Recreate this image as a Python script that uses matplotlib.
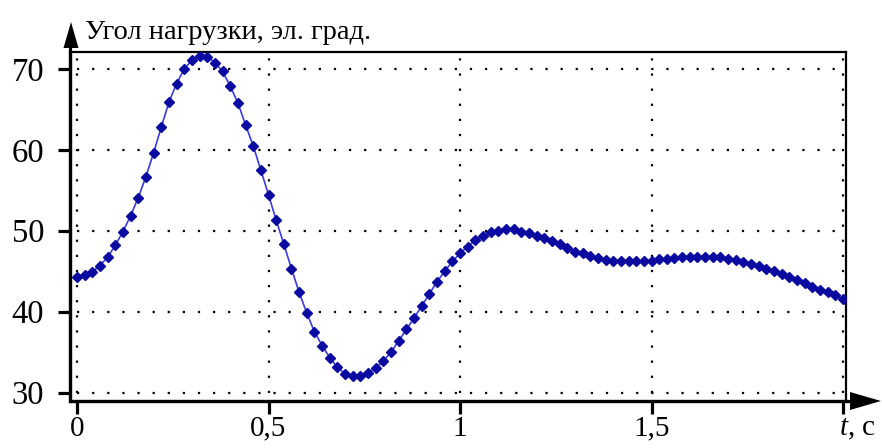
import matplotlib
matplotlib.use("Agg")
import matplotlib.pyplot as plt
from matplotlib.lines import Line2D
from matplotlib.patches import Polygon
from matplotlib.transforms import ScaledTranslation

# ---- data -------------------------------------------------------------
time_s = [0.00, 0.02, 0.04, 0.06, 0.08, 0.10, 0.12, 0.14, 0.16, 0.18,
          0.20, 0.22, 0.24, 0.26, 0.28, 0.30, 0.32, 0.34, 0.36, 0.38,
          0.40, 0.42, 0.44, 0.46, 0.48, 0.50, 0.52, 0.54, 0.56, 0.58,
          0.60, 0.62, 0.64, 0.66, 0.68, 0.70, 0.72, 0.74, 0.76, 0.78,
          0.80, 0.82, 0.84, 0.86, 0.88, 0.90, 0.92, 0.94, 0.96, 0.98,
          1.00, 1.02, 1.04, 1.06, 1.08, 1.10, 1.12, 1.14, 1.16, 1.18,
          1.20, 1.22, 1.24, 1.26, 1.28, 1.30, 1.32, 1.34, 1.36, 1.38,
          1.40, 1.42, 1.44, 1.46, 1.48, 1.50, 1.52, 1.54, 1.56, 1.58,
          1.60, 1.62, 1.64, 1.66, 1.68, 1.70, 1.72, 1.74, 1.76, 1.78,
          1.80, 1.82, 1.84, 1.86, 1.88, 1.90, 1.92, 1.94, 1.96, 1.98,
          2.00]
angle_deg = [44.3, 44.5, 44.9, 45.7, 46.75, 48.2, 49.9, 51.85, 54.1, 56.7,
             59.65, 62.8, 65.9, 68.2, 70.0, 71.1, 71.6, 71.5, 70.8, 69.7,
             67.9, 65.8, 63.1, 60.5, 57.5, 54.45, 51.3, 48.35, 45.3, 42.4,
             39.8, 37.5, 35.8, 34.3, 33.1, 32.3, 32.0, 32.0, 32.4, 33.05,
             33.9, 35.0, 36.4, 37.8, 39.2, 40.7, 42.2, 43.7, 45.0, 46.2,
             47.2, 48.05, 48.8, 49.4, 49.8, 50.0, 50.2, 50.2, 49.9, 49.7,
             49.4, 49.1, 48.7, 48.3, 47.9, 47.4, 47.2, 46.9, 46.6, 46.4,
             46.3, 46.3, 46.2, 46.2, 46.25, 46.3, 46.5, 46.5, 46.6, 46.7,
             46.7, 46.8, 46.8, 46.8, 46.7, 46.5, 46.4, 46.1, 45.9, 45.6,
             45.3, 45.0, 44.7, 44.3, 43.9, 43.5, 43.05, 42.7, 42.4, 42.0,
             41.5]
x_ticks = [0, 0.5, 1, 1.5, 2]
x_tick_labels = ["0", "0,5", "1", "1,5", r"$\mathit{t}$, с"]
y_ticks = [30, 40, 50, 60, 70]
y_tick_labels = ["30", "40", "50", "60", "70"]
y_title = "Угол нагрузки, эл. град."

# ---- style ------------------------------------------------------------
plt.rcParams["font.family"] = ["Liberation Serif", "DejaVu Serif"]
plt.rcParams["mathtext.fontset"] = "custom"
plt.rcParams["mathtext.it"] = "Liberation Serif:italic"
plt.rcParams["mathtext.rm"] = "Liberation Serif"

W, H = 882, 448
fig = plt.figure(figsize=(W / 100, H / 100), dpi=100)
L, R, T, B = 70, 846, 52, 401
ax = fig.add_axes([L / W, 1 - B / H, (R - L) / W, (B - T) / H])

ax.set_xlim(-0.0183, 2.0078)
ax.set_ylim(28.95, 72.1)

# dotted grid
for xv in x_ticks:
    ax.plot([xv, xv], [y_ticks[0], 72.1], color="black", lw=1.6,
            ls=(0, (1, 5.8)), zorder=1)
for yv in y_ticks:
    ax.plot([x_ticks[0], x_ticks[-1]], [yv, yv], color="black", lw=1.6,
            ls=(0, (1, 5.8)), zorder=1)

# curve
ax.plot(time_s, angle_deg, color="#3a3ae0", lw=1.2, zorder=3)
ax.plot(time_s, angle_deg, ls="none", marker="D", ms=4.8,
        color="#0a0aa0", mec="#0a0aa0", zorder=4)

# spines
for side in ("left", "bottom"):
    ax.spines[side].set_linewidth(2.3)
for side in ("top", "right"):
    ax.spines[side].set_linewidth(1.6)

ax.set_xticks(x_ticks)
ax.set_xticklabels(x_tick_labels)
ax.set_yticks(y_ticks)
ax.set_yticklabels(y_tick_labels)
ax.tick_params(axis="both", direction="out", length=9, width=2.3,
               color="black")
ax.tick_params(axis="x", pad=1.5, labelsize=21)
ax.tick_params(axis="y", pad=9.5, labelsize=23.5)
lbls = ax.get_xticklabels()
lbls[-1].set_horizontalalignment("left")
lbls[-1].set_transform(lbls[-1].get_transform() +
                       ScaledTranslation(-0.04, 0, fig.dpi_scale_trans))

# axis arrows (figure pixel -> fraction)
def fx(px):
    return px / W

def fy(py):
    return 1 - py / H

fig.add_artist(Line2D([fx(L), fx(L)], [fy(B), fy(40)], color="black",
                      lw=2.3, solid_capstyle="butt"))
fig.add_artist(Polygon([[fx(63.5), fy(48)], [fx(78.5), fy(48)],
                        [fx(71), fy(22)]], closed=True, color="black", lw=0))
fig.add_artist(Line2D([fx(L), fx(860)], [fy(B), fy(B)], color="black",
                      lw=2.3, solid_capstyle="butt"))
fig.add_artist(Polygon([[fx(850), fy(392)], [fx(850), fy(410)],
                        [fx(881), fy(401)]], closed=True, color="black", lw=0))

fig.text(fx(85), fy(39), y_title, fontsize=20.5, ha="left", va="baseline")

fig.savefig("out.png", dpi=100)
